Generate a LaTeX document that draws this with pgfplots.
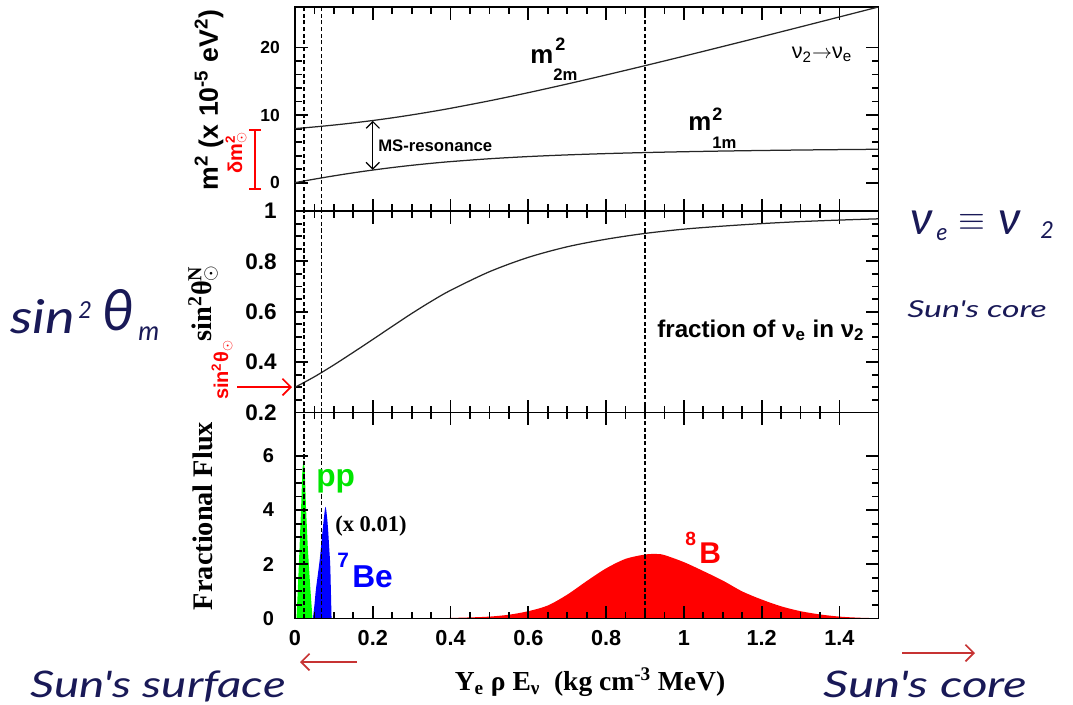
\documentclass[border=0pt]{standalone}
\usepackage{fontspec}
\setmainfont{Liberation Sans}
\newfontfamily\serif{Liberation Serif}
\newfontfamily\hand{Lato}
\usepackage{pgfplots}
\pgfplotsset{compat=1.18}
\usetikzlibrary{arrows.meta}
\definecolor{hwc}{rgb}{0.1,0.1,0.34}
\definecolor{arrred}{rgb}{0.78,0.2,0.2}
\pgfplotsset{
  base/.style={scale only axis, width=350pt, xmin=0, xmax=1.5, anchor=north west,
    xtick={0,0.2,0.4,0.6,0.8,1,1.2,1.4}, minor x tick num=3,
    tick align=inside, major tick length=7.5pt, minor tick length=4pt,
    every tick/.style={black, line width=1.1pt},
    axis line style={line width=0.9pt, black},
    /pgf/number format/assume math mode=true},
  vdash/.style={black, line width=0.75pt, dash pattern=on 2.5pt off 1.5pt},
  curve/.style={black!85, line width=0.75pt, smooth},
}
\begin{document}
\begin{tikzpicture}
% ---------- top panel
\begin{axis}[base, at={(177pt,-4.2pt)}, height=122.4pt, ymin=-4.2, ymax=26,
  ytick={0,10,20}, minor y tick num=4, xticklabels={},
  yticklabel style={font=\bfseries\fontsize{10.5}{12}\selectfont, xshift=-5.5pt}]
\addplot[curve] coordinates {(0,8)(0.05,8.246)(0.1,8.525)(0.15,8.842)(0.2,9.197)(0.25,9.592)(0.3,10.027)(0.35,10.499)(0.4,11.006)(0.5,12.113)(0.6,13.321)(0.7,14.603)(0.8,15.94)(0.9,17.317)(1.0,18.724)(1.1,20.154)(1.2,21.60)(1.3,23.06)(1.4,24.53)(1.5,26.0)};
\addplot[curve] coordinates {(0,0)(0.05,0.52)(0.1,1.005)(0.15,1.454)(0.2,1.864)(0.25,2.233)(0.3,2.564)(0.35,2.857)(0.4,3.114)(0.5,3.537)(0.6,3.86)(0.7,4.107)(0.8,4.30)(0.9,4.453)(1.0,4.576)(1.1,4.677)(1.2,4.76)(1.3,4.83)(1.4,4.89)(1.5,4.94)};
\addplot[vdash] coordinates {(0.023,-4.2)(0.023,26)};
\addplot[vdash] coordinates {(0.068,-4.2)(0.068,26)};
\addplot[vdash] coordinates {(0.9,-4.2)(0.9,26)};
\addplot[black, line width=0.7pt, {Straight Barb[length=4pt]}-{Straight Barb[length=4pt]}] coordinates {(0.2,1.9)(0.2,9.15)};
\end{axis}
% ---------- middle panel
\begin{axis}[base, at={(177pt,-126.6pt)}, height=120.9pt, ymin=0.2, ymax=1,
  ytick={0.2,0.4,0.6,0.8,1}, minor y tick num=3, xticklabels={},
  yticklabel style={font=\bfseries\fontsize{13.5}{15}\selectfont, xshift=-7.5pt}]
\addplot[curve] coordinates {(0,0.3)(0.05,0.342)(0.1,0.389)(0.15,0.439)(0.2,0.49)(0.25,0.542)(0.3,0.593)(0.35,0.641)(0.4,0.685)(0.5,0.759)(0.6,0.816)(0.7,0.858)(0.8,0.888)(0.9,0.911)(1.0,0.928)(1.1,0.94)(1.2,0.95)(1.3,0.958)(1.4,0.964)(1.5,0.969)};
\addplot[vdash] coordinates {(0.023,0.2)(0.023,1)};
\addplot[vdash] coordinates {(0.068,0.2)(0.068,1)};
\addplot[vdash] coordinates {(0.9,0.2)(0.9,1)};
\end{axis}
% ---------- bottom panel
\begin{axis}[base, at={(177pt,-247.5pt)}, height=123.6pt, ymin=0, ymax=7.6,
  ytick={0,2,4,6}, minor y tick num=3, axis on top,
  xticklabel style={font=\bfseries\fontsize{13}{15}\selectfont, yshift=-3.8pt},
  yticklabel style={font=\bfseries\fontsize{12}{14}\selectfont, xshift=-9pt}]
\addplot[fill=red, draw=none, smooth] coordinates {(0.35,0)(0.4,0.02)(0.45,0.04)(0.5,0.07)(0.55,0.14)(0.6,0.27)(0.65,0.48)(0.7,0.88)(0.75,1.38)(0.8,1.85)(0.85,2.2)(0.9,2.36)(0.93,2.38)(0.95,2.34)(1.0,2.08)(1.05,1.75)(1.1,1.4)(1.15,1.0)(1.2,0.7)(1.25,0.45)(1.3,0.27)(1.35,0.15)(1.4,0.07)(1.45,0.03)(1.5,0.01)} \closedcycle;
\addplot[fill=green, draw=none] coordinates {(0.004,0)(0.010,2.0)(0.016,4.2)(0.019,5.5)(0.022,5.85)(0.025,5.5)(0.028,4.2)(0.033,2.6)(0.039,1.2)(0.045,0)} \closedcycle;
\addplot[fill=blue, draw=none, smooth] coordinates {(0.046,0)(0.050,0.5)(0.054,1.1)(0.063,2.1)(0.070,3.1)(0.075,3.8)(0.0785,4.12)(0.082,3.8)(0.085,3.3)(0.088,2.6)(0.0905,2.0)(0.092,1.2)(0.094,0)} \closedcycle;
\addplot[vdash] coordinates {(0.023,0)(0.023,7.6)};
\addplot[vdash] coordinates {(0.068,0)(0.068,7.6)};
\addplot[vdash] coordinates {(0.9,0)(0.9,7.6)};
\end{axis}
% ---------- annotations (pixel coordinates)
\begin{scope}[x=0.6pt,y=-0.6pt]
\node[rotate=90, font=\bfseries\fontsize{16}{18}\selectfont] at (209,100) {m\textsuperscript{2} (x 10\textsuperscript{-5} eV\textsuperscript{2})};
\node[rotate=90, font=\serif\bfseries\fontsize{17}{19}\selectfont] at (203,303) {sin\textsuperscript{2}θ\rlap{\textsuperscript{N}}\textsubscript{$\odot$}};
\node[rotate=90, font=\serif\bfseries\fontsize{17}{19}\selectfont] at (203,516) {Fractional Flux};
\node[font=\serif\bfseries\fontsize{16.5}{18}\selectfont] at (590,682) {Y\textsubscript{e} ρ E\textsubscript{ν} \ (kg cm\textsuperscript{-3} MeV)};
\node[anchor=base west, inner sep=0pt, font=\bfseries\fontsize{15.5}{17}\selectfont] at (530,63) {m};
\node[anchor=base west, inner sep=0pt, font=\bfseries\fontsize{10.8}{12}\selectfont] at (555,50) {2};
\node[anchor=base west, inner sep=0pt, font=\bfseries\fontsize{10}{12}\selectfont] at (553,80) {2m};
\node[anchor=base west, inner sep=0pt, font=\bfseries\fontsize{15.5}{17}\selectfont] at (688,130) {m};
\node[anchor=base west, inner sep=0pt, font=\bfseries\fontsize{10.8}{12}\selectfont] at (712,120) {2};
\node[anchor=base west, inner sep=0pt, font=\bfseries\fontsize{10}{12}\selectfont] at (712,148) {1m};
\node[font=\fontsize{13}{15}\selectfont] at (822,55) {ν\textsubscript{2}$\rightarrow$ν\textsubscript{e}};
\node[anchor=base west, inner sep=0pt, font=\bfseries\fontsize{10}{12}\selectfont] at (378,151) {MS-resonance};
\node[anchor=base west, inner sep=0pt, font=\bfseries\fontsize{14.5}{16}\selectfont] at (657,337) {fraction of ν\textsubscript{e} in ν\textsubscript{2}};
\node[green!90!black, anchor=base west, inner sep=0pt, font=\bfseries\fontsize{19}{21}\selectfont] at (316,486) {pp};
\node[anchor=base west, inner sep=0pt, font=\serif\bfseries\fontsize{13.5}{15}\selectfont] at (335,531) {(x 0.01)};
\node[blue, anchor=base west, inner sep=0pt, font=\bfseries\fontsize{12.5}{14}\selectfont] at (337,567) {7};
\node[blue, anchor=base west, inner sep=0pt, font=\bfseries\fontsize{19}{21}\selectfont] at (352,587) {Be};
\node[red, anchor=base west, inner sep=0pt, font=\bfseries\fontsize{11.5}{13}\selectfont] at (685,545) {8};
\node[red, anchor=base west, inner sep=0pt, font=\bfseries\fontsize{18}{20}\selectfont] at (699,563) {B};
\draw[red, line width=1pt] (249,130) -- (261,130) (255,130) -- (255,189) (249,189) -- (261,189);
\node[red, rotate=90, font=\bfseries\fontsize{12}{14}\selectfont] at (236,153) {δm\rlap{\textsuperscript{2}}\textsubscript{$\odot$}};
\draw[red, line width=1pt, -{Straight Barb[length=5pt]}] (237,387) -- (292,387);
\node[red, rotate=90, font=\bfseries\fontsize{12}{14}\selectfont] at (222,370) {sin\textsuperscript{2}θ\textsubscript{$\odot$}};
\node[hwc, anchor=base west, inner sep=0pt, font=\hand\itshape\fontsize{28}{30}\selectfont] at (10,333) {\scalebox{1.2}[1]{sin}};
\node[hwc, anchor=base west, inner sep=0pt, font=\hand\itshape\fontsize{14}{16}\selectfont] at (78,318) {2};
\node[hwc, anchor=base west, inner sep=0pt, font=\hand\itshape\fontsize{34}{36}\selectfont] at (102,330) {θ};
\node[hwc, anchor=base west, inner sep=0pt, font=\hand\itshape\fontsize{16}{18}\selectfont] at (138,340) {m};
\node[hwc, anchor=base west, inner sep=0pt, font=\hand\itshape\fontsize{28}{30}\selectfont] at (910,234) {ν};
\node[hwc, anchor=base west, inner sep=0pt, font=\hand\itshape\fontsize{14}{16}\selectfont] at (936,240) {e};
\node[hwc, inner sep=0pt, font=\fontsize{20}{22}\selectfont] at (972,222) {$\equiv$};
\node[hwc, anchor=base west, inner sep=0pt, font=\hand\itshape\fontsize{28}{30}\selectfont] at (998,234) {ν};
\node[hwc, anchor=base west, inner sep=0pt, font=\hand\itshape\fontsize{14}{16}\selectfont] at (1040,238) {2};
\node[hwc, anchor=base west, inner sep=0pt, font=\hand\itshape\fontsize{14}{16}\selectfont] at (907,317) {\scalebox{1.45}[1]{Sun's core}};
\node[hwc, anchor=base west, inner sep=0pt, font=\hand\itshape\fontsize{22}{24}\selectfont] at (30,697) {\scalebox{1.3}[1]{Sun's surface}};
\node[hwc, anchor=base west, inner sep=0pt, font=\hand\itshape\fontsize{22}{24}\selectfont] at (823,697) {\scalebox{1.35}[1]{Sun's core}};
\draw[arrred, line width=1pt, -{Straight Barb[length=5pt]}] (357,662) -- (300,662);
\draw[arrred, line width=1pt, -{Straight Barb[length=5pt]}] (902,653) -- (975,653);
\path (0,0) (1073,704);
\end{scope}
\end{tikzpicture}
\end{document}
